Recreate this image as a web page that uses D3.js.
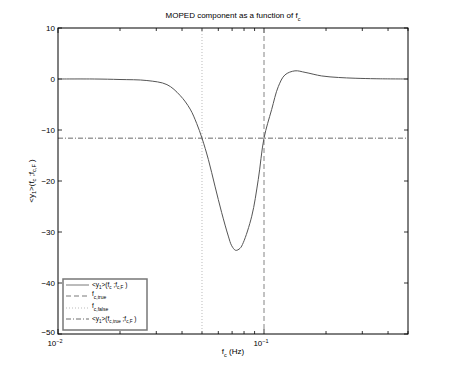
<!DOCTYPE html>
<html>
<head>
<meta charset="utf-8">
<script src="https://cdn.jsdelivr.net/npm/d3@7"></script>
<style>
body{margin:0;background:#fff;}
svg text{font-family:"Liberation Sans",Arial,sans-serif;fill:#000;}
</style>
</head>
<body>
<svg class="chart" width="450" height="376"></svg>
<script>
// curve
var freqs = [0.01, 0.015, 0.02, 0.027, 0.0338, 0.0391, 0.0438, 0.0471, 0.05, 0.0537, 0.0578, 0.0623, 0.0671, 0.0697, 0.0729, 0.0765, 0.0793, 0.0872, 0.0938, 0.1, 0.1089, 0.1173, 0.1264, 0.1413, 0.1582, 0.1905, 0.2297, 0.2768, 0.35, 0.5];
var values = [0, 0, -0.1, -0.3, -1.1, -3.2, -5.9, -8.7, -11.6, -15.8, -21, -26.2, -30.8, -32.7, -33.6, -33.2, -32.1, -26.9, -19.7, -11.6, -6, -1.5, 0.8, 1.6, 1.3, 0.6, 0.3, 0.15, 0.05, 0];
var fTrue = 0.1, fFalse = 0.05, yRef = -11.6;
var yTicks = [10, 0, -10, -20, -30, -40, -50];
var xDecades = [0.01, 0.1];

var margin = {top: 28, left: 58, right: 42, bottom: 42};
var width = 450 - margin.left - margin.right,
	height = 376 - margin.top - margin.bottom;

var x = d3.scaleLog().domain([0.01, 0.5]).range([0, width]);
var y = d3.scaleLinear().domain([-50, 10]).range([height, 0]);

var svg = d3.select('.chart');
var chart = svg.append('g').attr('transform', 'translate(' + margin.left + ',' + margin.top + ')');

// minor + major ticks on log axis, inward, bottom and top
var minor = [];
[0.01, 0.1].forEach(function(d){
	for(var k = 1; k < 10; k++){ if(d*k <= 0.5) minor.push(d*k); }
});
var tl = 4;
minor.forEach(function(v){
	var isMajor = xDecades.indexOf(v) >= 0;
	var len = isMajor ? tl + 1 : tl - 1;
	chart.append('line').attr('x1', x(v)).attr('x2', x(v)).attr('y1', height).attr('y2', height - len)
		.attr('stroke', '#000').attr('stroke-width', 0.8);
	chart.append('line').attr('x1', x(v)).attr('x2', x(v)).attr('y1', 0).attr('y2', len)
		.attr('stroke', '#000').attr('stroke-width', 0.8);
});
yTicks.forEach(function(v){
	chart.append('line').attr('x1', 0).attr('x2', tl).attr('y1', y(v)).attr('y2', y(v)).attr('stroke', '#000').attr('stroke-width', 0.8);
	chart.append('line').attr('x1', width).attr('x2', width - tl).attr('y1', y(v)).attr('y2', y(v)).attr('stroke', '#000').attr('stroke-width', 0.8);
	chart.append('text').attr('x', -3).attr('y', y(v) + (v === -50 ? 1 : 3)).attr('text-anchor', 'end').attr('font-size', 8)
		.text(v < 0 ? '\u2212' + (-v) : v);
});
xDecades.forEach(function(v){
	var t = chart.append('text').attr('x', x(v) - 3).attr('y', height + 12).attr('text-anchor', 'middle').attr('font-size', 8);
	t.append('tspan').text('10');
	t.append('tspan').attr('dy', -3).attr('font-size', 5.5).text('\u2212' + Math.round(-Math.log10(v)));
});

// reference lines
chart.append('line').attr('x1', x(fFalse)).attr('x2', x(fFalse)).attr('y1', 0).attr('y2', height)
	.attr('stroke', '#bbb').attr('stroke-width', 1).attr('stroke-dasharray', '1,2');
chart.append('line').attr('x1', x(fTrue)).attr('x2', x(fTrue)).attr('y1', 0).attr('y2', height)
	.attr('stroke', '#999').attr('stroke-width', 1.2).attr('stroke-dasharray', '5,3');
chart.append('line').attr('x1', 0).attr('x2', width).attr('y1', y(yRef)).attr('y2', y(yRef))
	.attr('stroke', '#444').attr('stroke-width', 0.8).attr('stroke-dasharray', '5,2,1,2');

// curve
var line = d3.line().x(function(d){ return x(d[0]); }).y(function(d){ return y(d[1]); }).curve(d3.curveCatmullRom.alpha(0.5));
chart.append('path').datum(d3.zip(freqs, values)).attr('d', line)
	.attr('fill', 'none').attr('stroke', '#555').attr('stroke-width', 1);

// frame
chart.append('rect').attr('width', width).attr('height', height).attr('fill', 'none').attr('stroke', '#000').attr('stroke-width', 1);

// legend
var lg = chart.append('g').attr('transform', 'translate(' + 5 + ',' + (y(-40) - 4) + ')');
lg.append('rect').attr('width', 84).attr('height', 51).attr('fill', '#fff').attr('stroke', '#777').attr('stroke-width', 1.5);
var items = [
	{dash: null, color: '#555'},
	{dash: '5,3', color: '#555'},
	{dash: '1,2', color: '#aaa'},
	{dash: '5,2,1,2', color: '#444'}
];
var rowY = [6, 17, 29, 40];
items.forEach(function(it, i){
	lg.append('line').attr('x1', 3).attr('x2', 26).attr('y1', rowY[i]).attr('y2', rowY[i])
		.attr('stroke', it.color).attr('stroke-width', 0.8).attr('stroke-dasharray', it.dash);
});
function yLabel(sel, a, b, fs){
	sel.append('tspan').text('<y');
	sel.append('tspan').attr('dy', 2).attr('font-size', fs*0.7).text('1');
	sel.append('tspan').attr('dy', -2).text('>(f');
	sel.append('tspan').attr('dy', 2).attr('font-size', fs*0.7).text(a);
	sel.append('tspan').attr('dy', -2).text(' ;f');
	sel.append('tspan').attr('dy', 2).attr('font-size', fs*0.7).text(b);
	sel.append('tspan').attr('dy', -2).text(' )');
}
var t0 = lg.append('text').attr('x', 29).attr('y', rowY[0] + 2).attr('font-size', 6.5);
yLabel(t0, 'c', 'c,F', 6.5);
var t1 = lg.append('text').attr('x', 29).attr('y', rowY[1]).attr('font-size', 6.5);
t1.append('tspan').text('f');
t1.append('tspan').attr('dy', 3).attr('font-size', 5).text('c,true');
var t2 = lg.append('text').attr('x', 29).attr('y', rowY[2]).attr('font-size', 6.5);
t2.append('tspan').text('f');
t2.append('tspan').attr('dy', 3).attr('font-size', 5).text('c,false');
var t3 = lg.append('text').attr('x', 29).attr('y', rowY[3] + 2).attr('font-size', 6.5);
yLabel(t3, 'c,true', 'c,F', 6.5);

// title and axis labels
var title = svg.append('text').attr('x', margin.left + width/2).attr('y', 18).attr('text-anchor', 'middle').attr('font-size', 8);
title.append('tspan').text('MOPED component as a function of f');
title.append('tspan').attr('dy', 2.5).attr('font-size', 5.5).text('c');

var xl = svg.append('text').attr('x', margin.left + width/2).attr('y', margin.top + height + 20).attr('text-anchor', 'middle').attr('font-size', 8);
xl.append('tspan').text('f');
xl.append('tspan').attr('dy', 2.5).attr('font-size', 5.5).text('c');
xl.append('tspan').attr('dy', -2.5).text(' (Hz)');

var yl = svg.append('text').attr('transform', 'translate(' + 34 + ',' + (margin.top + height/2) + ') rotate(-90)')
	.attr('text-anchor', 'middle').attr('font-size', 8);
yLabel(yl, 'c', 'c,F', 8);
</script>
</body>
</html>
